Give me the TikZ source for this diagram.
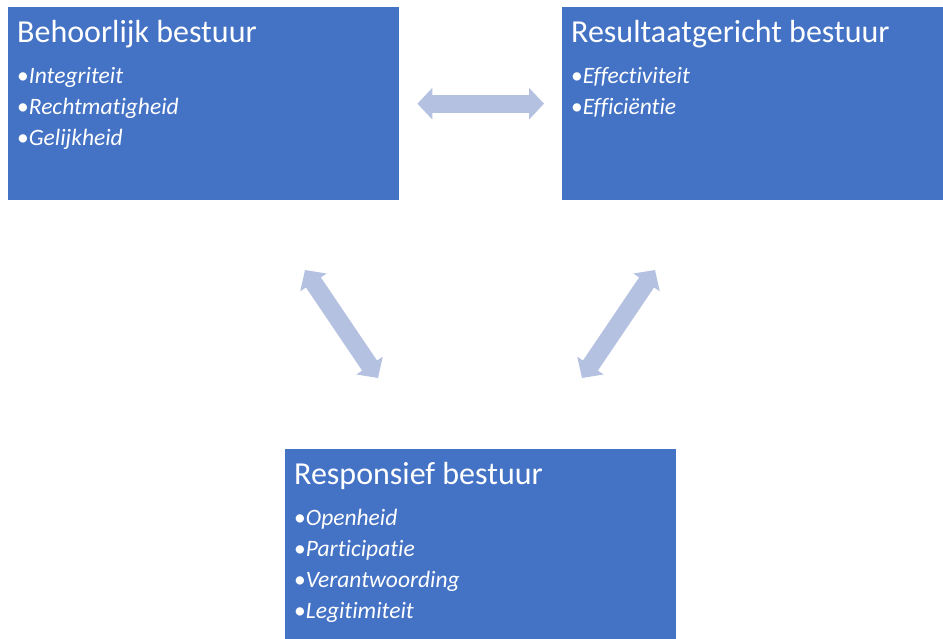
\documentclass[tikz,border=0pt]{standalone}
\usepackage{fontspec}
\setmainfont{Carlito}[Ligatures=NoCommon]
\usepackage{tikz}
\usetikzlibrary{arrows.meta}
\usetikzlibrary{positioning}

\definecolor{boxblue}{HTML}{4472C4}
\definecolor{arrowblue}{HTML}{B4C1E1}

\tikzset{
    box/.style={rectangle, fill=boxblue, inner sep=0pt, anchor=north west},
    ttl/.style={text=white, inner sep=0pt, anchor=base west, font=\fontsize{32}{38}\selectfont},
    item/.style={text=white, inner sep=0pt, anchor=base west, font=\fontsize{23.5}{28}\selectfont},
    dbl/.style={arrowblue, line width=18pt,
        {Triangle[width=31pt,length=15pt]}-{Triangle[width=31pt,length=15pt]}}
}

\begin{document}
\begin{tikzpicture}[x=1pt, y=-1pt]
        \useasboundingbox (0,0) rectangle (943,639);

        % de drie blokken
        \node[box, minimum width=391pt, minimum height=193pt] (lb) at (8,7) {};
        \node[box, minimum width=381pt, minimum height=193pt] (rb) at (562,7) {};
        \node[box, minimum width=391pt, minimum height=190pt] (bb) at (285,449) {};

        \node[ttl] (lbt) at ([xshift=9pt, yshift=-36pt]lb.north west) {Behoorlijk bestuur};
        \node[item] (lb1) at ([yshift=-41pt]lbt.base west) {•\textit{Integriteit}};
        \node[item] (lb2) at ([yshift=-31pt]lb1.base west) {•\textit{Rechtmatigheid}};
        \node[item] (lb3) at ([yshift=-31pt]lb2.base west) {•\textit{Gelijkheid}};

        \node[ttl] (rbt) at ([xshift=9pt, yshift=-36pt]rb.north west) {Resultaatgericht bestuur};
        \node[item] (rb1) at ([yshift=-41pt]rbt.base west) {•\textit{Effectiviteit}};
        \node[item] (rb2) at ([yshift=-31pt]rb1.base west) {•\textit{Efficiëntie}};

        \node[ttl] (bbt) at ([xshift=9pt, yshift=-35pt]bb.north west) {Responsief bestuur};
        \node[item] (bb1) at ([yshift=-41pt]bbt.base west) {•\textit{Openheid}};
        \node[item] (bb2) at ([yshift=-31pt]bb1.base west) {•\textit{Participatie}};
        \node[item] (bb3) at ([yshift=-31pt]bb2.base west) {•\textit{Verantwoording}};
        \node[item] (bb4) at ([yshift=-31pt]bb3.base west) {•\textit{Legitimiteit}};

        % pijlen
        \coordinate (la) at (305,270);
        \coordinate (lz) at (378,378);
        \coordinate (ra) at (655,270);
        \coordinate (rz) at (582,378);

        \draw[dbl, shorten <=18pt, shorten >=18pt] (lb.east) -- (rb.west);
        \draw[dbl] (la) -- (lz);
        \draw[dbl] (ra) -- (rz);
    \end{tikzpicture}
\end{document}
